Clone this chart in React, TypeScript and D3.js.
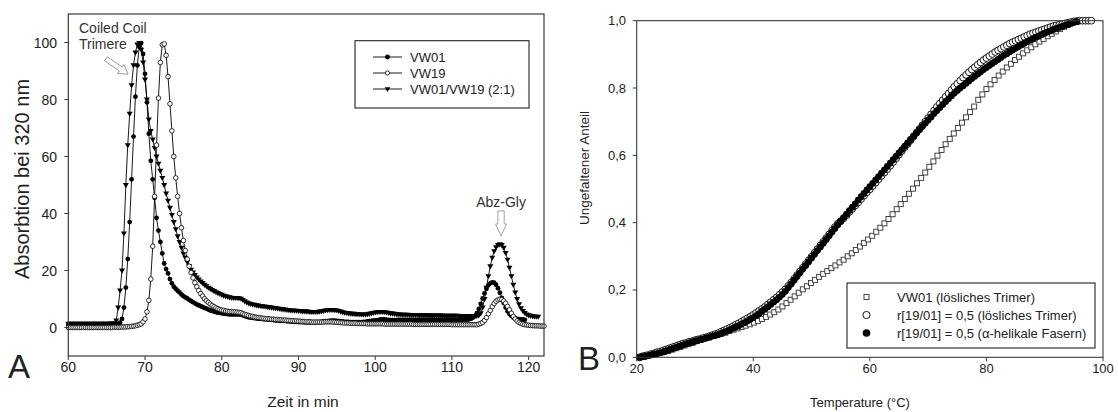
import React from "react";
import * as d3 from "d3";

// ---------------- Panel A data (time step 0.25 min, starting at 60 min) ----------------
const A_START = 60;
const A_STEP = 0.25;

const vw01 = [
  1.0,1.0,1.0,1.0, 1.0,1.0,1.0,1.0, 1.0,1.0,1.0,1.0, 1.0,1.0,1.0,1.0, 1.0,1.0,1.0,1.0,
  1.0,1.0,1.1,1.1, 1.1,1.2,1.3,1.7, 3.0,7.0,14,24, 37,52,67,81, 92,98.5,99.8,96,
  89,79,68,58.5, 52,45.5,38.5,34, 30,26,22.5,20.5, 19,17,15.5,14.3, 13.6,12.9,12.3,11.6,
  11.0,10.6,10.2,9.7, 9.3,8.9,8.5,8.1, 7.8,7.5,7.2,6.9, 6.6,6.3,6.0,5.8, 5.6,5.4,5.2,5.1,
  5.0,4.9,4.8,4.7, 4.6,4.6,4.6,4.6, 4.6,4.6,4.5,4.3, 4.0,3.8,3.6,3.5, 3.4,3.3,3.2,3.1,
  3.1,3.0,2.9,2.9, 2.8,2.7,2.7,2.6, 2.5,2.5,2.4,2.4, 2.3,2.3,2.2,2.2, 2.1,2.1,2.0,2.0,
  1.9,1.9,1.9,1.8, 1.8,1.8,1.8,1.8, 1.8,1.8,1.9,1.9, 2.0,2.1,2.2,2.2, 2.3,2.4,2.4,2.4,
  2.3,2.2,2.1,2.1, 2.0,2.0,2.0,1.9, 1.9,1.9,1.9,1.9, 1.9,1.9,2.0,2.0, 2.1,2.2,2.3,2.4,
  2.5,2.6,2.7,2.8, 2.8,2.8,2.7,2.7, 2.6,2.6,2.6,2.6, 2.7,2.7,2.7,2.7, 2.7,2.7,2.7,2.7,
  2.7,2.7,2.7,2.7, 2.7,2.7,2.7,2.7, 2.7,2.7,2.7,2.7, 2.7,2.7,2.7,2.7, 2.7,2.7,2.7,2.7,
  2.7,2.7,2.7,2.7, 2.7,2.7,2.8,2.8, 2.8,2.9,3.1,3.5, 4.0,5.0,6.5,8.3, 10.2,12.0,13.6,14.8,
  15.5,15.8,15.7,15.0, 13.8,12.2,10.4,8.6, 7.0,5.7,4.7,4.0, 3.5,3.2,3.0,2.9, 2.8,2.8,2.7,
];

const vw19 = [
  0,0,0,0, 0,0,0,0, 0,0,0,0, 0,0,0,0, 0,0,0,0, 0,0,0,0,
  0.1,0.1,0.1,0.1, 0.2,0.2,0.2,0.3, 0.3,0.4,0.5,0.6, 0.8,1.0,1.3,2.0,
  3.0,5.5,9.5,17, 28.5,46,64,80.5, 93,99.2,99.5,95.5, 88,78.5,69,60, 52.5,46,40,35,
  30.5,27,24,21.5, 19.3,17.4,15.7,14.3, 13.0,11.9,11.0,10.1, 9.4,8.8,8.2,7.7, 7.3,6.9,6.6,6.3,
  6.1,6.0,5.8,5.7, 5.6,5.6,5.5,5.5, 5.4,5.3,5.2,4.9, 4.6,4.4,4.2,4.0, 3.9,3.7,3.6,3.5,
  3.4,3.3,3.2,3.1, 3.1,3.0,2.9,2.9, 2.8,2.8,2.7,2.7, 2.6,2.6,2.5,2.5, 2.4,2.4,2.3,2.3,
  2.2,2.2,2.1,2.1, 2.0,2.0,2.0,1.9, 1.9,1.9,1.9,1.9, 1.9,1.9,2.0,2.0, 2.0,2.0,1.9,1.9,
  1.8,1.8,1.7,1.7, 1.6,1.6,1.6,1.5, 1.5,1.5,1.5,1.4, 1.4,1.4,1.4,1.4, 1.3,1.3,1.3,1.3,
  1.3,1.3,1.3,1.3, 1.3,1.2,1.2,1.2, 1.2,1.2,1.2,1.2, 1.2,1.2,1.2,1.2, 1.2,1.2,1.2,1.2,
  1.1,1.1,1.1,1.1, 1.1,1.1,1.1,1.1, 1.1,1.1,1.1,1.1, 1.1,1.1,1.1,1.1, 1.1,1.1,1.1,1.1,
  1.0,1.0,1.0,1.0, 1.0,1.0,1.0,1.0, 1.0,1.0,1.0,1.0, 1.0,1.0,1.2,1.4, 1.8,2.5,3.5,4.8,
  6.0,7.3,8.4,9.2, 9.7,9.9,9.8,9.3, 8.5,7.4,6.2,5.0, 3.9,3.0,2.3,1.8, 1.4,1.2,1.0,0.9,
  0.8,0.7,0.7,0.6, 0.6,0.6,0.5,0.5, 0.5,
];

const vwMix = [
  1.3,1.3,1.3,1.3, 1.3,1.3,1.3,1.3, 1.3,1.3,1.3,1.3, 1.3,1.3,1.3,1.3, 1.3,1.3,1.3,1.3,
  1.3,1.3,1.4,1.4, 1.5,2.5,7.0,13, 20,33,50,64, 75,85,92,96.5, 99.3,99.8,97.5,93,
  87,80,73,69, 66,63,60,57.5, 55,52.5,50,47, 44.5,42,39.5,37, 34.5,32,30,28,
  26,24.5,23,21.5, 20.3,19.3,18.4,17.6, 16.9,16.2,15.6,15.0, 14.5,14.0,13.6,13.2, 12.8,12.4,12.1,11.8,
  11.5,11.2,11.0,10.8, 10.6,10.5,10.4,10.4, 10.4,10.3,10.1,9.7, 9.2,8.8,8.5,8.3, 8.1,8.0,7.8,7.7,
  7.6,7.5,7.4,7.3, 7.2,7.1,7.0,6.9, 6.8,6.7,6.6,6.5, 6.4,6.3,6.2,6.1, 6.0,6.0,5.9,5.9,
  5.8,5.8,5.7,5.7, 5.6,5.6,5.5,5.5, 5.5,5.5,5.5,5.6, 5.7,5.8,6.0,6.1, 6.2,6.2,6.2,6.1,
  6.0,5.8,5.6,5.4, 5.2,5.1,5.0,4.9, 4.8,4.8,4.7,4.7, 4.6,4.6,4.6,4.6, 4.7,4.8,5.0,5.1,
  5.3,5.4,5.5,5.5, 5.5,5.4,5.3,5.1, 5.0,4.9,4.8,4.7, 4.6,4.6,4.5,4.5, 4.5,4.5,4.4,4.4,
  4.4,4.4,4.4,4.3, 4.3,4.3,4.3,4.3, 4.3,4.2,4.2,4.2, 4.2,4.2,4.2,4.2, 4.1,4.1,4.1,4.1,
  4.1,4.1,4.1,4.1, 4.0,4.0,4.0,4.0, 4.0,4.0,4.0,4.0, 4.0,4.1,4.3,5.0, 7.0,10,14,18,
  21.5,24.5,26.8,28.2, 29,29.2,29,28, 26.2,23.8,21,18, 15,12.3,10,8.2, 6.8,5.8,5.1,4.6,
  4.3,4.1,4.0,3.9, 3.8,3.8,
];

const aXTicks = [60, 70, 80, 90, 100, 110, 120];
const aYTicks = [0, 20, 40, 60, 80, 100];
const aLegend = ["VW01", "VW19", "VW01/VW19 (2:1)"];

// ---------------- Panel B data ----------------
const B_START = 20.5;
const B_STEP_CIRC = 0.5;
const B_STEP_SQ = 0.7;

const fibers = [
  0.000,0.002,0.003,0.005,0.007,0.009,0.011,0.013,0.016,0.019,0.022,0.025,0.028,0.031,0.034,0.037,
  0.040,0.043,0.045,0.048,0.050,0.053,0.055,0.058,0.060,0.063,0.065,0.068,0.071,0.075,0.078,0.082,
  0.086,0.090,0.094,0.099,0.103,0.108,0.113,0.118,0.124,0.130,0.137,0.143,0.150,0.157,0.164,0.171,
  0.179,0.187,0.196,0.207,0.218,0.229,0.240,0.251,0.262,0.273,0.284,0.295,0.306,0.317,0.328,0.339,
  0.350,0.361,0.372,0.383,0.394,0.405,0.415,0.425,0.436,0.446,0.456,0.467,0.477,0.487,0.497,0.507,
  0.517,0.527,0.537,0.547,0.557,0.567,0.577,0.587,0.597,0.607,0.617,0.627,0.637,0.647,0.657,0.667,
  0.676,0.686,0.695,0.705,0.714,0.724,0.733,0.742,0.751,0.760,0.768,0.777,0.785,0.793,0.800,0.807,
  0.814,0.821,0.828,0.835,0.842,0.848,0.855,0.861,0.867,0.873,0.879,0.885,0.891,0.897,0.902,0.908,
  0.913,0.918,0.923,0.928,0.933,0.938,0.942,0.947,0.951,0.955,0.959,0.963,0.967,0.970,0.974,0.977,
  0.980,0.983,0.986,0.989,0.992,0.995,0.997,
];

const solubleMix = [
  0.000,0.003,0.005,0.007,0.010,0.012,0.015,0.017,0.020,0.023,0.026,0.029,0.032,0.035,0.038,0.041,
  0.043,0.046,0.048,0.051,0.053,0.055,0.058,0.060,0.063,0.066,0.069,0.072,0.076,0.080,0.084,0.088,
  0.092,0.097,0.101,0.106,0.111,0.116,0.121,0.126,0.132,0.138,0.144,0.150,0.157,0.164,0.171,0.178,
  0.186,0.194,0.202,0.212,0.222,0.233,0.244,0.255,0.266,0.277,0.288,0.299,0.310,0.321,0.332,0.343,
  0.354,0.365,0.376,0.387,0.397,0.404,0.413,0.422,0.432,0.441,0.451,0.460,0.470,0.480,0.490,0.499,
  0.509,0.519,0.529,0.539,0.549,0.559,0.569,0.580,0.591,0.602,0.613,0.624,0.634,0.645,0.656,0.667,
  0.678,0.689,0.700,0.711,0.722,0.733,0.744,0.754,0.764,0.774,0.784,0.794,0.804,0.813,0.822,0.831,
  0.839,0.847,0.855,0.862,0.869,0.876,0.883,0.889,0.895,0.901,0.907,0.912,0.917,0.922,0.927,0.932,
  0.936,0.940,0.944,0.948,0.952,0.956,0.960,0.963,0.966,0.969,0.972,0.975,0.978,0.981,0.984,0.986,
  0.988,0.990,0.992,0.994,0.996,0.998,0.999,1.000,1.000,1.000,1.000,1.000,
];

const solubleVW01 = [
  0.000,0.002,0.005,0.008,0.011,0.014,0.016,0.019,0.023,0.027,0.031,0.035,0.039,0.043,0.048,0.052,
  0.056,0.059,0.063,0.066,0.070,0.073,0.078,0.082,0.086,0.090,0.094,0.098,0.103,0.108,0.114,0.120,
  0.127,0.134,0.142,0.151,0.161,0.171,0.181,0.192,0.202,0.211,0.221,0.230,0.239,0.248,0.256,0.265,
  0.273,0.282,0.290,0.300,0.309,0.319,0.329,0.340,0.350,0.361,0.373,0.385,0.398,0.411,0.425,0.440,
  0.455,0.470,0.486,0.501,0.517,0.533,0.549,0.566,0.582,0.599,0.616,0.633,0.649,0.665,0.681,0.697,
  0.713,0.729,0.745,0.765,0.781,0.797,0.811,0.824,0.837,0.849,0.861,0.872,0.883,0.893,0.903,0.912,
  0.921,0.930,0.938,0.946,0.954,0.961,0.968,0.975,0.982,0.988,0.994,0.998,
];

const bXTicks = [20, 40, 60, 80, 100];
const bYTicks = [0, 0.2, 0.4, 0.6, 0.8, 1.0];
const bLegend = [
  "VW01 (lösliches Trimer)",
  "r[19/01] = 0,5 (lösliches Trimer)",
  "r[19/01] = 0,5 (\u03b1-helikale Fasern)",
];

// ---------------- helpers ----------------
const FONT = "Arial, 'Liberation Sans', Helvetica, sans-serif";
const AX = "#3a3a3a";

function toPoints(vals: number[], start: number, step: number) {
  return vals.map((v, i) => ({ x: start + i * step, y: v }));
}

function triDown(s: number) {
  return `M${-s},${-s * 0.65}L${s},${-s * 0.65}L0,${s * 1.05}Z`;
}

function blockArrow(len: number, sw: number, hw: number, hl: number) {
  const b = len - hl;
  return `M0,${-sw}L${b},${-sw}L${b},${-hw}L${len},0L${b},${hw}L${b},${sw}L0,${sw}Z`;
}

export default function App() {
  // Panel A scales
  const xA = d3.scaleLinear().domain([60, 122]).range([68.3, 544]);
  const yA = d3.scaleLinear().domain([-10, 110]).range([356, 14]);
  // Panel B scales
  const xB = d3.scaleLinear().domain([20, 100]).range([636.7, 1103]);
  const yB = d3.scaleLinear().domain([0, 1]).range([357.3, 20.7]);

  const pA01 = toPoints(vw01, A_START, A_STEP);
  const pA19 = toPoints(vw19, A_START, A_STEP);
  const pAMix = toPoints(vwMix, A_START, A_STEP);

  const lineA = d3
    .line<{ x: number; y: number }>()
    .x((d) => xA(d.x))
    .y((d) => yA(d.y));

  const pBf = toPoints(fibers, B_START, B_STEP_CIRC);
  const pBo = toPoints(solubleMix, B_START, B_STEP_CIRC);
  const pBs = toPoints(solubleVW01, B_START, B_STEP_SQ);

  const fmtB = (v: number) => d3.format(".1f")(v).replace(".", ",");

  const [a0, a1] = xA.range();
  const [aBot, aTop] = yA.range();
  const [b0, b1] = xB.range();
  const [bBot, bTop] = yB.range();

  // annotation anchors
  const ccTail = [xA(64.9), yA(94.3)];
  const ccTip = [xA(67.8), yA(88.9)];
  const ccLen = Math.hypot(ccTip[0] - ccTail[0], ccTip[1] - ccTail[1]);
  const ccAng = (Math.atan2(ccTip[1] - ccTail[1], ccTip[0] - ccTail[0]) * 180) / Math.PI;
  const abzX = xA(116.4);
  const abzTail = yA(40.9);
  const abzTip = yA(32.1);

  const legA = { x: 355, y: 40.7, w: 174, h: 67.3 };
  const legB = { x: 847, y: 283, w: 248, h: 65 };

  return (
    <svg
      width={1118}
      height={412}
      style={{ position: "absolute", left: 0, top: 0, background: "#fff" }}
      fontFamily={FONT}
    >
      <rect x={0} y={0} width={1118} height={412} fill="#fff" />

      {/* ================= Panel A ================= */}
      <g>
        {/* series lines */}
        <path d={lineA(pA01) || ""} fill="none" stroke="#000" strokeWidth={0.9} />
        <path d={lineA(pAMix) || ""} fill="none" stroke="#000" strokeWidth={0.9} />
        <path d={lineA(pA19) || ""} fill="none" stroke="#000" strokeWidth={0.9} />
        {/* markers */}
        {pA01.map((d, i) => (
          <circle key={"a01" + i} cx={xA(d.x)} cy={yA(d.y)} r={2.4} fill="#000" />
        ))}
        {pAMix.map((d, i) => (
          <path key={"amx" + i} d={triDown(3)} transform={`translate(${xA(d.x)},${yA(d.y)})`} fill="#000" />
        ))}
        {pA19.map((d, i) => (
          <circle key={"a19" + i} cx={xA(d.x)} cy={yA(d.y)} r={2.3} fill="#fff" stroke="#000" strokeWidth={0.8} />
        ))}

        {/* frame */}
        <rect x={a0} y={aTop} width={a1 - a0} height={aBot - aTop} fill="none" stroke={AX} strokeWidth={1.2} />

        {/* x ticks */}
        {aXTicks.map((t) => (
          <g key={"axt" + t}>
            <line x1={xA(t)} x2={xA(t)} y1={aBot} y2={aBot + 4} stroke={AX} />
            <text x={xA(t)} y={372} fontSize={14} textAnchor="middle" fill="#222">
              {t}
            </text>
          </g>
        ))}
        {/* y ticks */}
        {aYTicks.map((t) => (
          <g key={"ayt" + t}>
            <line x1={a0 - 4} x2={a0} y1={yA(t)} y2={yA(t)} stroke={AX} />
            <text x={57} y={yA(t) + 5} fontSize={14} textAnchor="end" fill="#222">
              {t}
            </text>
          </g>
        ))}

        <text x={303} y={407} fontSize={15.5} textAnchor="middle" fill="#222">
          Zeit in min
        </text>
        <text
          transform={`translate(29,${(aTop + aBot) / 2 - 6}) rotate(-90)`}
          fontSize={20}
          textAnchor="middle"
          fill="#222"
        >
          Absorbtion bei 320 nm
        </text>
        <text x={8} y={378} fontSize={33} fill="#222">
          A
        </text>

        {/* legend A */}
        <rect x={legA.x} y={legA.y} width={legA.w} height={legA.h} fill="#fff" stroke="#222" strokeWidth={1.1} />
        {aLegend.map((name, i) => {
          const ly = 57 + i * 16;
          return (
            <g key={"la" + i}>
              <line x1={373} x2={402} y1={ly} y2={ly} stroke="#000" strokeWidth={0.9} />
              {i === 0 && <circle cx={387.5} cy={ly} r={2.4} fill="#000" />}
              {i === 1 && <circle cx={387.5} cy={ly} r={2.1} fill="#fff" stroke="#000" strokeWidth={0.8} />}
              {i === 2 && <path d={triDown(2.8)} transform={`translate(387.5,${ly})`} fill="#000" />}
              <text x={410} y={ly + 4.5} fontSize={13} fill="#222">
                {name}
              </text>
            </g>
          );
        })}

        {/* annotations */}
        <text x={79} y={33} fontSize={14} fill="#333">
          Coiled Coil
        </text>
        <text x={79} y={49} fontSize={14} fill="#333">
          Trimere
        </text>
        <path
          d={blockArrow(ccLen, 2.4, 5.5, 9)}
          transform={`translate(${ccTail[0]},${ccTail[1]}) rotate(${ccAng})`}
          fill="#fff"
          stroke="#999"
          strokeWidth={0.9}
        />
        <text x={abzX} y={207} fontSize={14} textAnchor="middle" fill="#333">
          Abz-Gly
        </text>
        <path
          d={blockArrow(abzTip - abzTail, 3.2, 5.5, 12)}
          transform={`translate(${abzX},${abzTail}) rotate(90)`}
          fill="#fff"
          stroke="#999"
          strokeWidth={0.9}
        />
      </g>

      {/* ================= Panel B ================= */}
      <g>
        {pBs.map((d, i) => (
          <rect
            key={"bs" + i}
            x={xB(d.x) - 2.5}
            y={yB(d.y) - 2.5}
            width={5}
            height={5}
            fill="#fff"
            stroke="#333"
            strokeWidth={0.9}
          />
        ))}
        {pBo.map((d, i) => (
          <circle key={"bo" + i} cx={xB(d.x)} cy={yB(d.y)} r={3.4} fill="#fff" stroke="#000" strokeWidth={0.9} />
        ))}
        {pBf.map((d, i) => (
          <circle key={"bf" + i} cx={xB(d.x)} cy={yB(d.y)} r={3.4} fill="#000" />
        ))}

        <rect x={b0} y={bTop} width={b1 - b0} height={bBot - bTop} fill="none" stroke={AX} strokeWidth={1.1} />

        {bXTicks.map((t) => (
          <g key={"bxt" + t}>
            <line x1={xB(t)} x2={xB(t)} y1={bBot} y2={bBot + 4} stroke={AX} />
            <text x={xB(t)} y={373} fontSize={13} textAnchor="middle" fill="#222">
              {t}
            </text>
          </g>
        ))}
        {bYTicks.map((t) => (
          <g key={"byt" + t}>
            <line x1={b0 - 4} x2={b0} y1={yB(t)} y2={yB(t)} stroke={AX} />
            <text x={626} y={yB(t) + 4.5} fontSize={13} textAnchor="end" fill="#222">
              {fmtB(t)}
            </text>
          </g>
        ))}

        <text x={860} y={407} fontSize={13} textAnchor="middle" fill="#222">
          Temperature (°C)
        </text>
        <text
          transform={`translate(589,168) rotate(-90)`}
          fontSize={13.5}
          textAnchor="middle"
          fill="#222"
        >
          Ungefaltener Anteil
        </text>
        <text x={578} y={370} fontSize={33} fill="#222">
          B
        </text>

        {/* legend B */}
        <rect x={legB.x} y={legB.y} width={legB.w} height={legB.h} fill="#fff" stroke="#222" strokeWidth={1.1} />
        {bLegend.map((name, i) => {
          const ly = 297 + i * 18;
          return (
            <g key={"lb" + i}>
              {i === 0 && (
                <rect x={864} y={ly - 2.5} width={5} height={5} fill="#fff" stroke="#333" strokeWidth={0.9} />
              )}
              {i === 1 && <circle cx={866.5} cy={ly} r={3.6} fill="#fff" stroke="#000" strokeWidth={0.9} />}
              {i === 2 && <circle cx={866.5} cy={ly} r={3.8} fill="#000" />}
              <text x={897} y={ly + 4.5} fontSize={13} fill="#222">
                {name}
              </text>
            </g>
          );
        })}
      </g>
    </svg>
  );
}
